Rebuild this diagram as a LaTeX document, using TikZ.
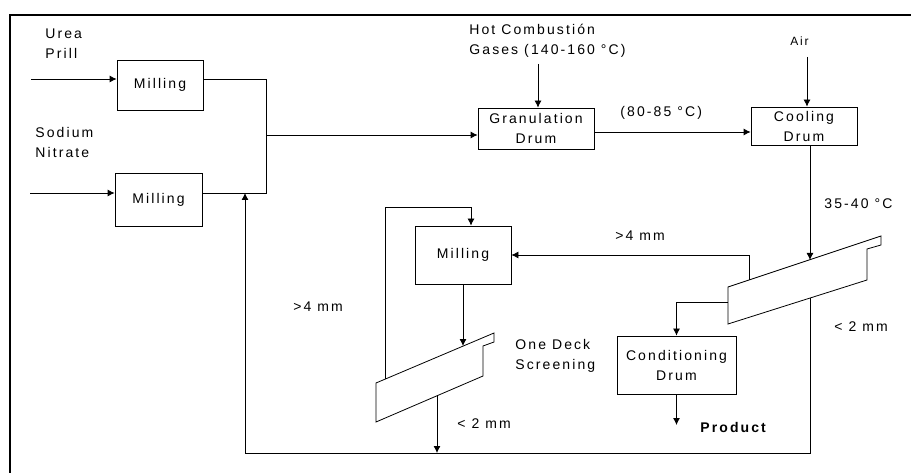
\documentclass[tikz,border=0pt]{standalone}
\usepackage{fontspec}
\setmainfont{Liberation Sans}[LetterSpace=15]
\usetikzlibrary{arrows.meta}

\begin{document}
\begin{tikzpicture}[x=1pt, y=-1pt, line width=0.8pt, >={Latex[length=7pt,width=7pt]},
    every node/.style={font=\fontsize{14}{20}\selectfont},
    unit/.style={draw, inner sep=0pt, align=center},
    lbl/.style={anchor=west, align=left, inner sep=0pt}]
    \useasboundingbox (0,0) rectangle (911,473);
    \draw[line width=2pt] (10,473) -- (10,15) -- (911,15);

    \node[unit, minimum width=86pt, minimum height=50pt] (mill1) at (160,85) {Milling};
    \node[unit, minimum width=87pt, minimum height=53pt] (mill2) at (158.5,199.5) {Milling};
    \node[unit, minimum width=116pt, minimum height=41pt] (gran) at (536,128.5) {Granulation\\Drum};
    \node[unit, minimum width=106pt, minimum height=38pt] (cool) at (804,126) {Cooling\\Drum};
    \node[unit, minimum width=96pt, minimum height=58pt] (mill3) at (463,255) {Milling};
    \node[unit, minimum width=119pt, minimum height=58pt] (cond) at (676.5,365) {Conditioning\\Drum};

    \node[lbl] (urea) at (45,44) {Urea\\Prill};
    \node[lbl] (nitrate) at (35,142) {Sodium\\Nitrate};
    \node[lbl] (gases) at (469,41) {Hot Combustión\\Gases (140-160 °C)};
    \node[lbl, font=\fontsize{12}{14}\selectfont] (air) at (790,41) {Air};
    \node[lbl] (granT) at (620,113) {(80-85 °C)};
    \node[lbl] (coolT) at (824,204) {35-40 °C};
    \node[lbl] (bigOver) at (615,236) {>4 mm};
    \node[lbl] (bigUnder) at (834,327) {< 2 mm};
    \node[lbl] (deckOver) at (293,307) {>4 mm};
    \node[lbl] (deck) at (515,356) {One Deck\\Screening};
    \node[lbl] (deckUnder) at (457,424) {< 2 mm};
    \node[lbl, font=\fontsize{14}{20}\selectfont\bfseries] (product) at (700,427) {Product};

    \draw (376,383) -- (494,333) -- (494,342) -- (483,346) -- (483,376) -- (376,422) -- cycle;
    \draw (728,287) -- (881,236) -- (881,245) -- (867,249) -- (867,280) -- (728,324) -- cycle;

    \coordinate (ureaIn) at (31,79);
    \coordinate (nitrateIn) at (30,193);
    \draw[->] (ureaIn) -- (ureaIn -| mill1.west);
    \draw[->] (nitrateIn) -- (nitrateIn -| mill2.west);
    \coordinate (j1) at (266,79);
    \coordinate (j2) at (266,193);
    \coordinate (jm) at (266,135);
    \draw (ureaIn -| mill1.east) -- (j1) -- (j2) -- (nitrateIn -| mill2.east);
    \draw[->] (jm) -- (jm -| gran.west);
    \coordinate (gasIn) at (538,64);
    \draw[->] (gasIn) -- (gasIn |- gran.north);
    \coordinate (granOut) at (594,132);
    \draw[->] (granOut) -- (granOut -| cool.west);
    \coordinate (airIn) at (807,57);
    \draw[->] (airIn) -- (airIn |- cool.north);

    \coordinate (bigIn) at (810,260);
    \draw[->] (bigIn |- cool.south) -- (bigIn);
    \coordinate (bigTop) at (749,280);
    \draw[->] (bigTop) |- (mill3.east);
    \coordinate (bigMid) at (728,302);
    \draw[->] (bigMid) -| (cond.north);
    \coordinate (prodOut) at (676.5,425);
    \draw[->] (cond.south) -- (prodOut);

    \coordinate (deckIn) at (463,346);
    \draw[->] (mill3.south) -- (deckIn);
    \coordinate (deckTop) at (385,379);
    \coordinate (loop) at (471,207);
    \draw[->] (deckTop) |- (loop) -- (loop |- mill3.north);

    \coordinate (bigBot) at (810,298);
    \coordinate (recycle) at (245,453);
    \draw (bigBot) -- (bigBot |- recycle) -- (recycle);
    \draw[->] (recycle) -- (recycle |- j2);
    \coordinate (deckBot) at (437,396);
    \draw[->] (deckBot) -- (deckBot |- recycle);
\end{tikzpicture}
\end{document}
